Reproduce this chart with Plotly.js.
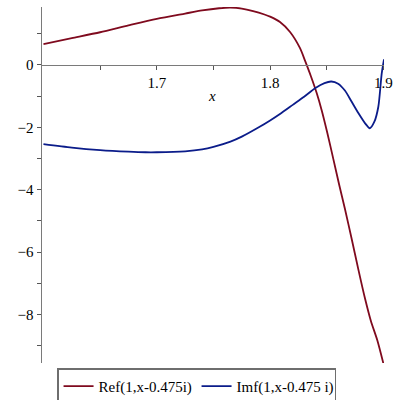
<!DOCTYPE html>
<html>
<head>
<meta charset="utf-8">
<script src="https://cdn.plot.ly/plotly-3.0.1.min.js"></script>
<style>html,body{margin:0;padding:0;background:#fff;}#chart{width:400px;height:400px;}</style>
</head>
<body>
<div id="chart"></div>
<script>
// Data
const refX = [1.6,1.625,1.65,1.675,1.7,1.725,1.74,1.755,1.765,1.775,1.785,1.795,1.8,1.8087,1.8176,1.8264,1.8308,1.836,1.8411,1.8455,1.8505,1.8558,1.861,1.8661,1.872,1.878,1.8838,1.889,1.8946,1.9];
const refY = [0.67,0.86,1.05,1.27,1.48,1.65,1.75,1.82,1.84,1.81,1.73,1.62,1.55,1.38,1.06,0.54,0.14,-0.36,-0.90,-1.45,-2.18,-3.02,-3.85,-4.63,-5.58,-6.58,-7.50,-8.22,-8.83,-9.58];

const imX = [1.6,1.625,1.65,1.675,1.69,1.7,1.725,1.74,1.75,1.765,1.775,1.79,1.8,1.81,1.82,1.83,1.84,1.848,1.854,1.86,1.866,1.872,1.878,1.884,1.888,1.892,1.8955,1.8985,1.9005];
const imY = [-2.54,-2.65,-2.73,-2.78,-2.80,-2.80,-2.77,-2.71,-2.63,-2.46,-2.30,-2.00,-1.78,-1.54,-1.28,-1.02,-0.74,-0.58,-0.53,-0.60,-0.82,-1.18,-1.55,-1.88,-2.03,-1.82,-1.34,-0.27,0.18];

const seriesNames = ['Ref(1,x-0.475i)', 'Imf(1,x-0.475 i)'];
const xTickVals = [1.65,1.7,1.75,1.8,1.85,1.9];
const xTickText = ['','1.7','','1.8','','1.9'];
const yTickVals = [-9,-8,-7,-6,-5,-4,-3,-2,-1,0,1];
const yTickText = ['','\u22128','','\u22126','','\u22124','','\u22122','','0',''];
const xRange = [1.5987, 1.9005];
const yRange = [-9.56, 1.86];

const serif = 'Liberation Serif';
const redC = '#7f0a1e';
const blueC = '#0b1c8a';

const traces = [
  {x: refX, y: refY, type: 'scatter', mode: 'lines', name: seriesNames[0],
   line: {color: redC, width: 1.8, shape: 'spline', smoothing: 0.7}},
  {x: imX, y: imY, type: 'scatter', mode: 'lines', name: seriesNames[1],
   line: {color: blueC, width: 1.8, shape: 'spline', smoothing: 0.7}}
];

const zeroPos = (0 - yRange[0]) / (yRange[1] - yRange[0]);

const layout = {
  width: 400, height: 400,
  font: {family: serif, size: 15, color: '#000'},
  margin: {l: 42, r: 16, t: 7, b: 37, pad: 0, autoexpand: false},
  paper_bgcolor: '#fff', plot_bgcolor: '#fff',
  showlegend: true,
  legend: {
    orientation: 'h', x: 0.044, xanchor: 'left', y: -0.015, yanchor: 'top',
    bgcolor: '#fff', bordercolor: '#6e6e6e', borderwidth: 1.5,
    font: {family: serif, size: 15, color: '#000'},
    itemwidth: 30, tracegroupgap: 0,
    entrywidth: 93, entrywidthmode: 'pixels'
  },
  xaxis: {
    range: xRange, anchor: 'free', position: zeroPos, side: 'bottom',
    showgrid: false, zeroline: false,
    showline: true, linecolor: '#7a7a7a', linewidth: 1.5,
    tickmode: 'array', tickvals: xTickVals, ticktext: xTickText,
    ticks: 'outside', ticklen: 4, tickwidth: 1, tickcolor: '#555',
    tickfont: {family: serif, size: 15, color: '#000'}
  },
  yaxis: {
    range: yRange, anchor: 'x',
    showgrid: false, zeroline: false,
    showline: true, linecolor: '#7a7a7a', linewidth: 1.5,
    tickmode: 'array', tickvals: yTickVals, ticktext: yTickText,
    ticks: 'outside', ticklen: 4, tickwidth: 1, tickcolor: '#555',
    tickfont: {family: serif, size: 15, color: '#000'}
  },
  annotations: [{
    text: '<i>x</i>', x: 1.7487, y: -0.99, xref: 'x', yref: 'y',
    showarrow: false, font: {family: serif, size: 15, color: '#000'}
  }]
};

Plotly.newPlot('chart', traces, layout, {displayModeBar: false, staticPlot: true});
</script>
</body>
</html>
